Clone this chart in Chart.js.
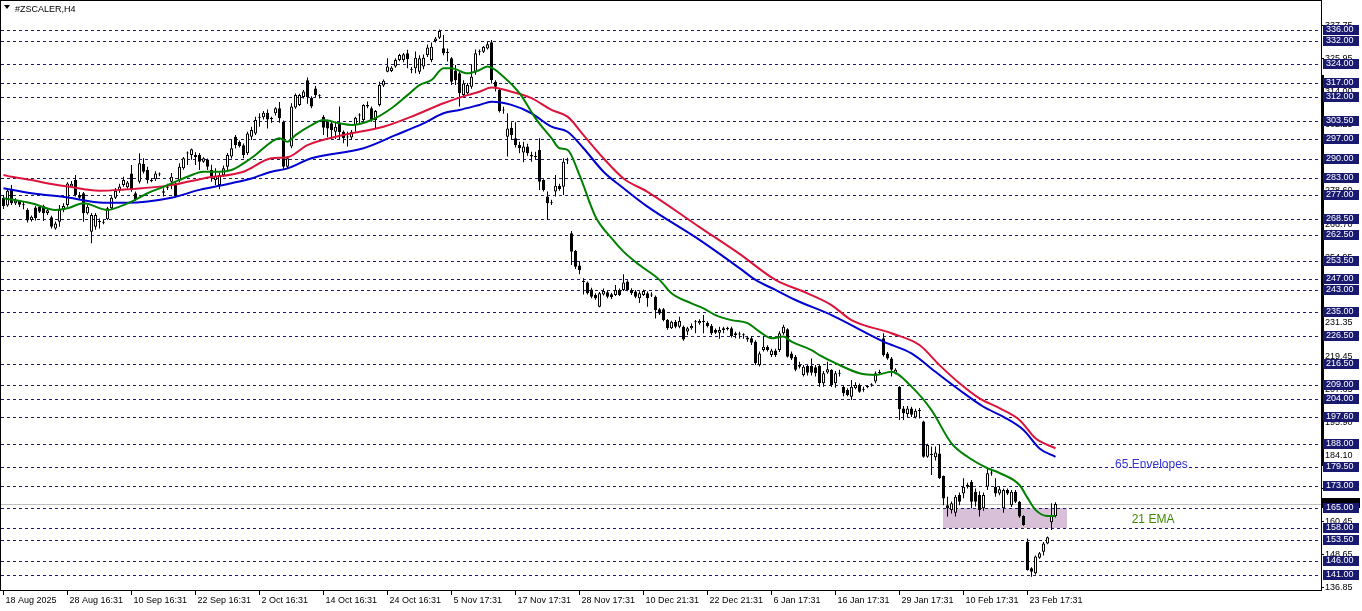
<!DOCTYPE html>
<html>
<head>
<meta charset="utf-8">
<title>#ZSCALER,H4</title>
<script src="https://cdn.jsdelivr.net/npm/chart.js@4/dist/chart.umd.min.js"></script>
<style>
html, body { margin: 0; padding: 0; background: #fff; overflow: hidden; }
#wrap { width: 1362px; height: 611px; }
</style>
</head>
<body>
<div id="wrap"><canvas id="zsChart" width="1362" height="611"></canvas></div>
<script>
// H4 candles, oldest first (bar 0 = 18 Aug 2025)
const opens = [
  276.0, 273.2, 279.0, 274.0, 275.0, 273.5, 271.6, 268.0, 272.5, 272.8,
  273.0, 270.5, 269.0, 265.0, 267.4, 271.5, 273.4, 280.0, 282.3, 277.0,
  277.6, 270.4, 263.8, 265.6, 267.6, 267.3, 268.3, 272.2, 276.0, 278.5,
  280.5, 279.7, 284.7, 277.6, 281.7, 288.1, 285.9, 282.3, 282.6, 284.6,
  278.3, 279.6, 281.7, 281.1, 282.3, 286.5, 291.8, 291.3, 291.3, 291.3,
  288.9, 289.7, 285.9, 282.3, 280.5, 284.0, 287.1, 290.7, 297.8, 296.0,
  294.8, 291.9, 297.8, 299.0, 304.6, 304.8, 306.4, 304.2, 306.2, 308.0,
  303.2, 287.1, 294.3, 308.3, 309.2, 312.0, 318.0, 311.8, 315.1, 312.6,
  305.0, 303.2, 302.6, 299.6, 302.6, 299.6, 297.5, 297.5, 302.0, 305.4,
  303.8, 308.6, 308.0, 303.8, 309.2, 316.1, 321.1, 321.3, 322.9, 325.3,
  325.3, 327.7, 322.0, 322.3, 321.1, 322.9, 327.1, 325.3, 332.1, 333.2,
  329.5, 328.0, 325.9, 321.5, 320.5, 312.7, 313.4, 315.7, 320.8, 328.0,
  328.2, 329.4, 331.6, 317.5, 314.5, 307.2, 297.8, 301.0, 297.3, 294.9,
  292.2, 294.3, 291.3, 290.8, 293.1, 282.3, 276.4, 274.0, 278.2, 280.3,
  279.9, 289.3, 263.3, 256.9, 251.7, 245.8, 245.7, 243.2, 241.2, 237.0,
  241.4, 242.2, 241.5, 241.2, 243.0, 243.0, 246.0, 243.0, 242.4, 240.0,
  241.2, 241.8, 241.0, 240.6, 236.1, 236.1, 232.2, 229.3, 231.6, 229.8,
  229.8, 228.1, 229.3, 231.4, 231.1, 231.8, 231.2, 230.1, 228.7, 227.7,
  229.3, 228.9, 229.3, 227.5, 227.1, 226.8, 226.0, 225.7, 224.5, 216.1,
  221.5, 222.7, 219.7, 221.3, 221.5, 227.5, 228.9, 220.3, 219.1, 215.5,
  212.6, 215.8, 215.8, 215.3, 215.8, 209.6, 213.5, 214.4, 209.6, 213.0,
  208.4, 207.2, 204.8, 207.8, 209.0, 207.3, 208.3, 208.9, 210.2, 213.3,
  225.7, 220.3, 218.5, 213.2, 208.4, 200.6, 198.6, 200.6, 197.4, 199.7,
  195.9, 183.3, 184.2, 183.1, 184.5, 176.4, 166.0, 164.3, 163.3, 169.6,
  170.2, 172.6, 174.4, 170.8, 169.6, 164.9, 172.6, 177.3, 172.6, 170.2,
  164.9, 171.4, 166.0, 170.8, 167.2, 162.1, 152.9, 143.4, 141.6, 147.2,
  149.3, 152.3, 159.9, 162.1
];
const highs = [
  277.0, 279.0, 280.5, 275.8, 275.2, 274.6, 272.2, 269.6, 273.0, 273.2,
  273.5, 272.2, 269.5, 267.5, 273.4, 274.0, 281.5, 282.0, 284.1, 278.0,
  278.0, 273.5, 270.5, 270.5, 268.6, 268.0, 272.8, 276.5, 279.5, 281.0,
  283.5, 282.0, 287.7, 278.2, 291.9, 290.1, 287.1, 283.0, 285.5, 285.0,
  279.4, 281.0, 284.8, 281.5, 288.3, 290.6, 292.5, 293.6, 292.3, 292.0,
  290.5, 290.0, 287.8, 286.5, 285.0, 287.5, 292.0, 296.6, 298.4, 296.5,
  295.4, 299.6, 301.4, 305.0, 306.2, 307.0, 307.6, 305.0, 308.4, 310.2,
  303.6, 290.8, 309.8, 313.3, 313.2, 314.5, 319.0, 312.3, 316.0, 313.0,
  305.6, 303.9, 303.2, 303.2, 308.6, 300.0, 299.6, 300.2, 305.0, 306.2,
  309.4, 310.4, 308.6, 307.4, 317.5, 318.3, 325.9, 323.0, 325.9, 327.5,
  327.8, 328.9, 322.8, 328.3, 327.0, 327.2, 330.8, 331.5, 333.5, 336.2,
  334.2, 329.4, 326.3, 323.5, 321.0, 318.0, 317.0, 323.5, 329.0, 329.0,
  330.3, 331.8, 332.4, 318.0, 315.0, 308.5, 306.2, 303.0, 303.0, 296.0,
  296.0, 295.3, 292.4, 292.4, 297.3, 282.6, 278.2, 275.3, 284.1, 281.0,
  290.1, 290.3, 264.1, 257.3, 253.1, 247.2, 246.0, 243.8, 241.8, 242.3,
  243.5, 242.8, 242.0, 244.8, 243.5, 248.6, 246.5, 243.6, 243.0, 242.5,
  243.2, 242.4, 242.2, 241.0, 236.5, 236.5, 232.6, 232.0, 232.2, 233.4,
  230.3, 229.8, 231.0, 232.2, 232.5, 234.0, 231.8, 230.8, 229.2, 229.8,
  229.8, 229.8, 229.8, 228.0, 228.0, 227.5, 226.5, 226.5, 225.0, 221.0,
  226.3, 223.2, 222.0, 222.0, 228.2, 230.5, 229.3, 221.0, 219.7, 217.3,
  216.1, 216.1, 218.5, 216.1, 216.1, 214.0, 217.3, 214.6, 214.0, 214.4,
  209.0, 207.8, 210.8, 210.0, 209.5, 208.4, 209.0, 209.6, 213.8, 214.4,
  227.5, 220.8, 219.0, 215.0, 208.6, 201.5, 201.5, 201.2, 200.5, 200.8,
  196.2, 188.0, 187.0, 187.0, 187.5, 176.6, 169.0, 167.3, 169.6, 170.5,
  175.6, 174.0, 175.0, 172.0, 171.0, 170.5, 179.2, 179.0, 175.6, 172.6,
  172.0, 172.0, 171.4, 171.4, 167.5, 162.4, 154.1, 143.8, 148.0, 149.2,
  152.8, 154.8, 166.7, 167.0
];
const lows = [
  272.0, 272.8, 273.4, 273.4, 272.7, 271.9, 267.1, 267.5, 267.8, 270.5,
  267.7, 269.8, 265.0, 264.5, 265.6, 270.8, 272.8, 279.5, 276.4, 275.5,
  267.4, 270.0, 259.7, 264.5, 265.0, 266.5, 268.0, 271.8, 275.5, 277.8,
  279.9, 279.2, 278.1, 274.8, 281.1, 284.7, 281.1, 281.5, 282.0, 283.7,
  276.4, 278.8, 279.0, 276.0, 281.6, 286.0, 287.7, 289.6, 287.7, 285.9,
  288.5, 285.9, 281.7, 280.5, 279.0, 283.5, 285.9, 290.0, 293.6, 294.0,
  290.1, 291.3, 296.6, 298.4, 301.4, 304.0, 300.8, 302.8, 305.4, 302.8,
  285.9, 286.3, 293.7, 307.8, 308.8, 311.5, 309.6, 308.0, 312.0, 311.5,
  298.4, 297.6, 297.0, 297.0, 296.6, 295.5, 294.3, 296.8, 299.6, 302.0,
  303.2, 308.0, 303.2, 300.8, 308.6, 315.6, 320.9, 321.0, 322.5, 324.8,
  324.5, 322.3, 320.5, 320.5, 320.3, 322.0, 326.3, 324.5, 331.5, 332.8,
  327.0, 324.7, 316.3, 316.3, 308.6, 312.0, 313.0, 315.0, 320.0, 327.0,
  327.8, 329.0, 316.9, 314.0, 306.5, 306.0, 290.7, 296.6, 294.0, 291.9,
  288.7, 291.0, 288.9, 289.8, 278.8, 278.2, 268.0, 273.4, 276.4, 278.5,
  277.0, 288.1, 251.9, 250.5, 248.6, 241.4, 241.4, 240.0, 239.5, 236.8,
  241.0, 240.0, 239.8, 240.8, 240.8, 242.6, 242.5, 241.2, 240.0, 238.3,
  240.8, 237.0, 240.5, 232.8, 234.0, 231.8, 228.8, 229.0, 229.3, 229.3,
  224.8, 226.9, 228.8, 227.5, 230.5, 227.5, 229.6, 226.9, 227.2, 225.5,
  227.5, 228.5, 226.0, 225.7, 225.5, 225.5, 224.5, 223.3, 216.1, 215.6,
  221.0, 221.0, 219.0, 219.0, 220.8, 227.0, 218.8, 217.9, 213.9, 214.9,
  212.0, 212.4, 212.4, 212.0, 208.4, 208.4, 213.0, 208.3, 208.0, 212.0,
  205.0, 205.0, 203.6, 207.5, 206.2, 206.6, 207.8, 208.4, 209.6, 212.6,
  219.2, 218.0, 212.0, 212.8, 196.5, 196.5, 197.5, 197.5, 197.0, 197.0,
  183.0, 183.0, 176.8, 182.0, 175.4, 166.0, 161.9, 163.0, 161.9, 166.0,
  168.5, 172.0, 164.9, 165.5, 161.9, 164.0, 171.4, 176.5, 169.0, 169.5,
  163.3, 169.6, 165.3, 166.8, 161.5, 158.6, 142.5, 140.4, 141.2, 146.8,
  148.0, 152.0, 157.1, 161.6
];
const closes = [
  273.0, 278.5, 274.0, 275.0, 273.5, 273.3, 267.8, 269.2, 268.7, 271.0,
  270.4, 271.5, 265.6, 266.8, 271.6, 273.0, 281.1, 281.0, 277.0, 276.0,
  270.4, 272.8, 269.8, 269.8, 267.3, 267.0, 272.2, 276.0, 278.5, 280.0,
  282.3, 281.4, 278.8, 275.2, 288.3, 285.3, 282.3, 282.0, 284.7, 284.3,
  277.8, 280.0, 283.5, 276.4, 287.1, 290.1, 292.0, 293.3, 290.5, 288.9,
  290.1, 287.1, 283.5, 283.8, 284.1, 286.5, 291.3, 293.7, 294.8, 294.5,
  291.3, 299.0, 300.2, 303.8, 304.8, 306.4, 304.0, 304.5, 308.0, 304.4,
  287.1, 290.1, 308.6, 312.7, 312.7, 314.0, 312.0, 308.6, 312.7, 312.3,
  301.0, 300.8, 300.2, 301.4, 299.4, 297.3, 297.9, 299.6, 304.6, 305.7,
  309.2, 309.2, 303.8, 307.0, 316.3, 317.8, 322.9, 322.5, 325.3, 327.1,
  327.3, 325.5, 321.8, 326.1, 325.9, 326.1, 329.7, 330.0, 333.0, 335.6,
  327.7, 327.8, 317.5, 318.0, 313.4, 316.9, 316.3, 319.3, 327.7, 328.3,
  330.0, 330.9, 318.1, 315.7, 307.0, 307.5, 300.8, 298.4, 294.9, 293.7,
  294.3, 291.9, 290.7, 290.6, 281.7, 278.8, 274.0, 274.2, 280.3, 279.1,
  288.9, 289.6, 256.7, 251.3, 250.1, 246.1, 241.8, 240.6, 240.0, 241.8,
  242.6, 240.6, 240.5, 243.0, 241.2, 245.7, 243.0, 241.8, 240.6, 241.8,
  242.6, 240.0, 241.3, 235.8, 234.6, 232.2, 229.3, 231.6, 229.8, 231.9,
  225.3, 229.3, 230.1, 231.7, 231.9, 231.5, 230.1, 227.5, 227.7, 228.7,
  228.7, 229.5, 226.5, 226.9, 227.3, 227.0, 225.3, 224.1, 216.8, 220.3,
  222.7, 221.5, 221.3, 219.7, 227.5, 229.8, 219.1, 218.5, 214.4, 216.1,
  215.5, 213.4, 213.4, 213.2, 209.6, 213.2, 214.6, 209.0, 213.2, 213.3,
  206.0, 205.4, 208.4, 209.0, 206.6, 207.5, 208.5, 209.1, 213.2, 213.5,
  219.7, 218.5, 214.4, 214.4, 200.3, 198.9, 200.6, 198.3, 199.8, 199.9,
  183.3, 187.5, 183.9, 184.8, 175.6, 168.4, 164.9, 166.7, 169.0, 167.2,
  172.6, 173.2, 167.2, 167.2, 164.3, 169.6, 177.4, 177.5, 170.2, 171.7,
  171.4, 170.2, 170.8, 167.2, 161.9, 158.9, 142.8, 142.2, 147.6, 148.8,
  152.3, 154.5, 162.5, 166.4
];

// 21 EMA at these bars
const emaIdx = [0,7,13,16,20,26,29,32,36,40,46,50,54,57,60,63,67,69,71,73,77,80,84,87,92,97,101,104,107,110,
  112,116,119,121,125,129,133,137,139,141,144,148,152,155,159,164,167,172,175,178,182,186,189,192,195,197,202,204,208,214,
  218,222,227,232,237,241,246,249,254,256,258,261,263];
const emaVals = [275.8,274.0,271.6,272.2,274.0,271.6,272.8,274.6,277.6,279.9,283.5,285.3,285.3,285.9,288.3,291.3,296.0,297.3,296.0,298.4,
  302.0,303.8,302.6,302.0,303.8,308.0,312.7,316.3,318.1,322.3,322.3,320.5,321.7,322.9,319.3,313.4,304.4,297.3,293.7,293.1,
  284.1,269.2,261.5,256.7,251.9,246.6,241.8,238.2,236.4,234.0,232.2,231.1,228.1,225.7,226.3,224.5,221.5,219.7,216.8,213.2,
  212.6,213.7,208.4,200.0,188.1,183.3,179.2,177.5,173.2,168.6,164.3,162.1,162.1];

// 65 envelopes
const envUpIdx = [0,2,7,12,16,24,29,42,50,60,67,71,76,85,95,103,110,116,119,122,127,132,137,141,145,150,155,161,174,184,
  193,201,207,212,222,229,234,239,244,249,254,258,263];
const envUpVals = [284.1,283.5,282.3,280.9,280.0,278.5,278.8,280.5,282.9,285.3,290.1,290.5,294.8,298.4,301.4,305.6,309.8,312.7,313.9,315.4,
  313.9,311.6,307.4,305.0,298.4,290.1,282.9,278.1,265.5,255.9,246.6,241.8,237.6,232.2,227.5,223.3,216.1,209.6,204.2,200.7,
  196.5,189.9,186.3];
const envLoIdx = [0,7,16,25,31,42,49,57,62,67,71,77,90,98,105,110,114,119,122,127,132,137,141,145,150,155,161,174,184,188,
  193,198,207,220,227,233,239,245,250,255,259,263];
const envLoVals = [279.4,277.6,276.1,274.2,274.2,276.0,278.8,281.2,282.9,285.3,286.5,290.1,293.7,298.4,302.6,306.2,307.4,309.2,310.3,309.2,
  306.2,301.4,299.6,293.7,285.3,279.4,272.8,260.9,250.8,246.6,243.0,239.4,234.0,224.5,220.3,213.7,207.2,201.2,197.6,192.9,
  186.3,183.3];

// horizontal levels drawn on the chart
const levels = [336, 332, 324, 317, 312, 303.5, 297, 290, 283, 277, 268.5, 262.5, 253.5, 247, 243, 235, 226.5,
  216.5, 209, 204, 197.6, 188, 179.5, 173, 165, 158, 153.5, 146, 141];
// plain price scale ticks
const priceTicks = [337.75, 325.95, 314.00, 302.25, 290.40, 278.60, 266.70, 254.95, 243.15, 231.35, 219.45,
  207.65, 195.90, 184.10, 172.25, 160.45, 148.65, 136.85];
// time scale
const timeIdx = [0, 16, 32, 48, 64, 80, 96, 112, 128, 144, 160, 176, 192, 208, 224, 240, 256];
const timeLabels = ['18 Aug 2025', '28 Aug 16:31', '10 Sep 16:31', '22 Sep 16:31', '2 Oct 16:31', '14 Oct 16:31',
  '24 Oct 16:31', '5 Nov 17:31', '17 Nov 17:31', '28 Nov 17:31', '10 Dec 21:31', '22 Dec 21:31', '6 Jan 17:31',
  '16 Jan 17:31', '29 Jan 17:31', '10 Feb 17:31', '23 Feb 17:31'];

// support box (bars / prices)
const zoneBars = [234.9, 265.9];
const zonePrices = [158, 165];
// dark marker on the price scale (prices)
const scaleMarker = [180.0, 319.9];

// visible range
const priceMin = 135.285, priceMax = 346.376;
const barMin = -0.625, barMax = 329.375;

const FONT = "'Liberation Sans', Arial, sans-serif";
const NAVY = '#191970';

const pts = (idx, vals) => idx.map((v, k) => ({ x: v, y: vals[k] }));
const bars = closes.map((c, i) => i);

const mt4Overlay = {
  id: 'mt4Overlay',
  beforeDatasetsDraw(chart) {
    const { ctx, chartArea: a, scales: { x, y } } = chart;
    ctx.save();
    ctx.beginPath();
    ctx.rect(a.left, a.top, a.right - a.left, a.bottom - a.top);
    ctx.clip();

    const zx1 = Math.round(x.getPixelForValue(zoneBars[0]));
    const zx2 = Math.round(x.getPixelForValue(zoneBars[1]));
    const zy1 = Math.round(y.getPixelForValue(zonePrices[1]));
    const zy2 = Math.round(y.getPixelForValue(zonePrices[0]));
    ctx.fillStyle = '#d8c0d8';
    ctx.fillRect(zx1, zy1, zx2 - zx1, zy2 - zy1);

    ctx.lineWidth = 1;
    const bidY = Math.round(y.getPixelForValue(closes[closes.length - 1])) + 0.5;
    ctx.strokeStyle = '#c0c0c0';
    ctx.beginPath(); ctx.moveTo(a.left, bidY); ctx.lineTo(a.right, bidY); ctx.stroke();

    ctx.strokeStyle = NAVY;
    ctx.setLineDash([3, 3]);
    levels.forEach(v => {
      const py = Math.round(y.getPixelForValue(v)) + 0.5;
      ctx.beginPath(); ctx.moveTo(a.left, py); ctx.lineTo(a.right, py); ctx.stroke();
    });
    ctx.restore();
  },
  afterDraw(chart) {
    const { ctx, chartArea: a, scales: { x, y } } = chart;
    ctx.save();
    ctx.lineWidth = 1;
    ctx.strokeStyle = '#000';
    ctx.strokeRect(a.left - 0.5, a.top - 0.5, a.right - a.left + 1, a.bottom - a.top);

    // time labels
    ctx.font = '9px ' + FONT;
    ctx.textBaseline = 'middle';
    ctx.textAlign = 'left';
    ctx.fillStyle = '#000';
    timeIdx.forEach((v, k) => {
      const px = Math.floor(x.getPixelForValue(v)) + 0.5;
      ctx.beginPath(); ctx.moveTo(px, a.bottom); ctx.lineTo(px, a.bottom + 4); ctx.stroke();
      ctx.fillText(timeLabels[k], px + 2, a.bottom + 9.5);
    });

    // price scale
    const m1 = Math.round(y.getPixelForValue(scaleMarker[1]));
    const m2 = Math.round(y.getPixelForValue(scaleMarker[0]));
    ctx.fillRect(a.right, m1, 3, m2 - m1);
    priceTicks.forEach(v => {
      const py = Math.round(y.getPixelForValue(v)) + 0.5;
      ctx.beginPath(); ctx.moveTo(a.right, py); ctx.lineTo(a.right + 3, py); ctx.stroke();
      ctx.fillText(v.toFixed(2), a.right + 4, py);
    });

    // bid label, mostly hidden under the level labels
    const bidPy = Math.round(y.getPixelForValue(closes[closes.length - 1]));
    ctx.fillRect(a.right, bidPy - 6, 39, 10);

    levels.forEach(v => {
      const py = Math.round(y.getPixelForValue(v));
      ctx.fillStyle = NAVY;
      ctx.fillRect(a.right + 2, py - 5, 36, 10);
      ctx.fillStyle = '#fff';
      ctx.fillText(v.toFixed(2), a.right + 5, py);
    });

    // title
    ctx.fillStyle = '#000';
    ctx.beginPath();
    ctx.moveTo(4, 5); ctx.lineTo(10, 5); ctx.lineTo(7, 9); ctx.closePath(); ctx.fill();
    ctx.font = "9px 'Liberation Sans Narrow', 'Liberation Sans', Arial, sans-serif";
    ctx.fillText('#ZSCALER,H4', 15, 10);

    // indicator captions
    ctx.font = '12px ' + FONT;
    ctx.textBaseline = 'alphabetic';
    ctx.fillStyle = '#3636d8';
    ctx.fillText('65 Envelopes', x.getPixelForValue(277.9), y.getPixelForValue(179.3));
    ctx.fillStyle = '#3f8a00';
    ctx.fillText('21 EMA', x.getPixelForValue(282.05), y.getPixelForValue(159.7));
    ctx.restore();
  }
};

const ctx = document.getElementById('zsChart').getContext('2d');
const zsChart = new Chart(ctx, {
  type: 'bar',
  data: {
    datasets: [
      {
        type: 'line', label: '21 EMA', data: pts(emaIdx, emaVals),
        borderColor: '#008000', borderWidth: 2, pointRadius: 0, cubicInterpolationMode: 'monotone', order: 0
      },
      {
        type: 'line', label: 'Envelopes upper', data: pts(envUpIdx, envUpVals),
        borderColor: '#dc143c', borderWidth: 2, pointRadius: 0, cubicInterpolationMode: 'monotone', order: 0
      },
      {
        type: 'line', label: 'Envelopes lower', data: pts(envLoIdx, envLoVals),
        borderColor: '#0000d0', borderWidth: 2, pointRadius: 0, cubicInterpolationMode: 'monotone', order: 0
      },
      {
        label: 'body',
        data: bars.map(i => ({ x: i, y: [opens[i], closes[i]] })),
        backgroundColor: bars.map(i => closes[i] >= opens[i] ? '#ffffff' : '#000000'),
        borderColor: '#000000', borderWidth: 1, borderSkipped: false,
        barThickness: 3, minBarLength: 1, inflateAmount: 0, grouped: false, order: 1
      },
      {
        label: 'wick',
        data: bars.map(i => ({ x: i, y: [lows[i], highs[i]] })),
        backgroundColor: '#000000', borderWidth: 0,
        barThickness: 1, minBarLength: 1, inflateAmount: 0, grouped: false, order: 2
      }
    ]
  },
  options: {
    responsive: false,
    animation: false,
    devicePixelRatio: 1,
    layout: { padding: { left: 1, top: 1, right: 0, bottom: 0 } },
    plugins: { legend: { display: false }, tooltip: { enabled: false } },
    scales: {
      x: {
        type: 'linear', min: barMin, max: barMax, offset: false,
        grid: { display: false }, border: { display: false }, ticks: { display: false },
        afterFit(scale) { scale.height = 20; }
      },
      y: {
        type: 'linear', position: 'right', min: priceMin, max: priceMax,
        grid: { display: false }, border: { display: false }, ticks: { display: false },
        afterFit(scale) { scale.width = 41; }
      }
    }
  },
  plugins: [mt4Overlay]
});
</script>
</body>
</html>
